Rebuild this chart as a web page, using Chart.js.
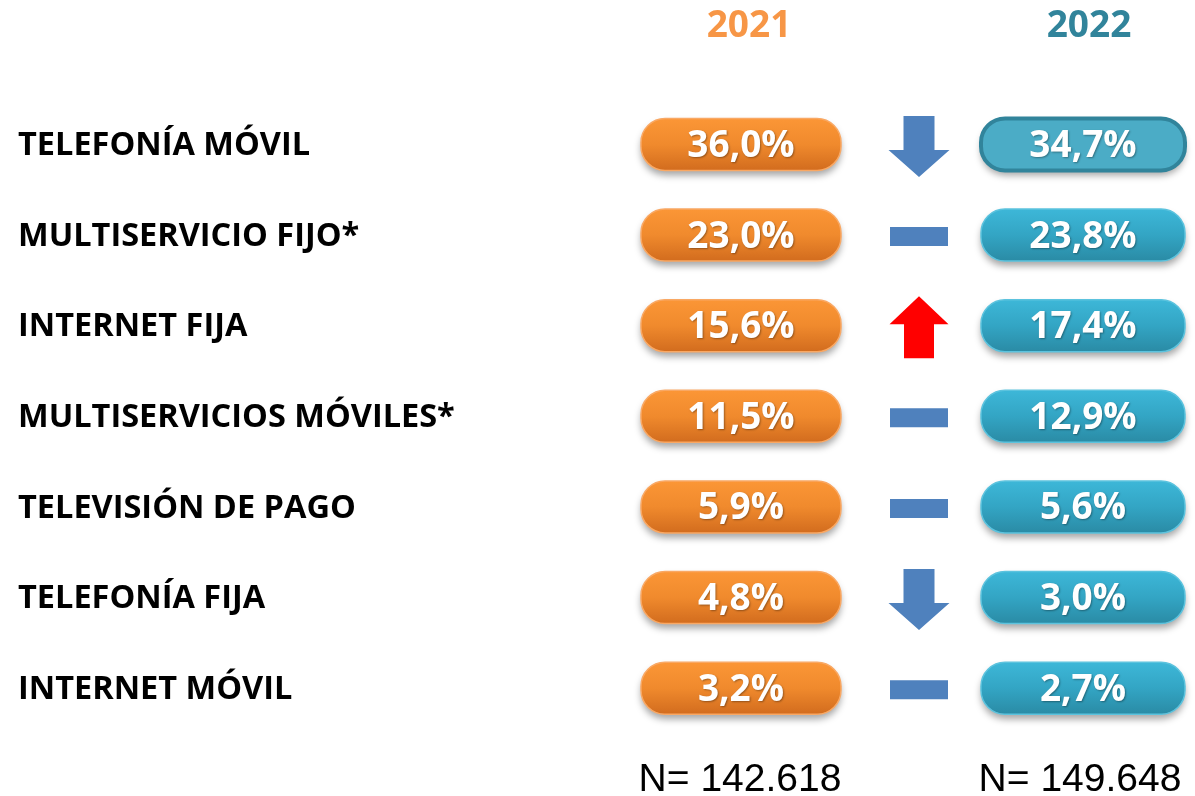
<!DOCTYPE html>
<html>
<head>
<meta charset="utf-8">
<script src="https://cdn.jsdelivr.net/npm/chart.js@4.4.0/dist/chart.umd.min.js"></script>
<style>
  html, body { margin: 0; padding: 0; background: #fff; }
</style>
</head>
<body>
<canvas id="chart" width="1195" height="796"></canvas>
<script>
const categories = ['TELEFONÍA MÓVIL', 'MULTISERVICIO FIJO*', 'INTERNET FIJA', 'MULTISERVICIOS MÓVILES*', 'TELEVISIÓN DE PAGO', 'TELEFONÍA FIJA', 'INTERNET MÓVIL'];
const share2021 = [36.0, 23.0, 15.6, 11.5, 5.9, 4.8, 3.2];
const share2022 = [34.7, 23.8, 17.4, 12.9, 5.6, 3.0, 2.7];
const trend = ['down', 'flat', 'up', 'flat', 'flat', 'down', 'flat'];
const columns = ['2021', '', '2022'];
const sampleSizes = ['N= 142.618', '', 'N= 149.648'];
const highlightRow = 0;

const yearColors = ['#F79646', '#ffffff', '#31849B'];

function fmt(v) {
    return v.toFixed(1).replace('.', ',') + '%';
}

// no extra side padding from the wide bottom labels
function noSidePad(s) {
    s.paddingLeft = 0;
    s.paddingRight = 0;
}

// pills, arrows and labels painted at the points the scales give us
const pillPlugin = {
    id: 'pills',
    afterDatasetsDraw(chart) {
        const ctx = chart.ctx;
        const styles = [
            { w: 200, top: '#FB9636', mid: '#F08A2D', bottom: '#D26C1E', edge: '#F9A864' },
            { w: 204, top: '#3DB7D8', mid: '#33A5C4', bottom: '#2A8BA5', edge: '#5CC3DE' }
        ];
        [0, 1].forEach(d => {
            const meta = chart.getDatasetMeta(d);
            const vals = chart.data.datasets[d].values;
            const st = styles[d];
            meta.data.forEach((pt, i) => {
                const h = 52, w = st.w;
                const cx = pt.x - (d === 0 ? 2 : 0), cy = pt.y - 1.5;
                ctx.save();
                ctx.beginPath();
                ctx.roundRect(cx - w / 2, cy - h / 2, w, h, 24);
                const g = ctx.createLinearGradient(0, cy - h / 2, 0, cy + h / 2);
                g.addColorStop(0, st.top);
                g.addColorStop(0.5, st.mid);
                g.addColorStop(1, st.bottom);
                ctx.shadowColor = 'rgba(0,0,0,0.35)';
                ctx.shadowBlur = 7;
                ctx.shadowOffsetY = 5;
                if (d === 1 && i === highlightRow) {
                    ctx.fillStyle = '#4BACC6';
                    ctx.fill();
                    ctx.shadowColor = 'transparent';
                    ctx.lineWidth = 4;
                    ctx.strokeStyle = '#31849B';
                    ctx.stroke();
                } else {
                    ctx.fillStyle = g;
                    ctx.fill();
                    ctx.shadowColor = 'transparent';
                    ctx.lineWidth = 1.5;
                    ctx.strokeStyle = st.edge;
                    ctx.stroke();
                }
                ctx.font = 'bold 37px "Open Sans"';
                ctx.textAlign = 'center';
                ctx.textBaseline = 'middle';
                ctx.shadowColor = 'rgba(0,0,0,0.35)';
                ctx.shadowBlur = 2;
                ctx.shadowOffsetX = 1;
                ctx.shadowOffsetY = 1;
                ctx.fillStyle = '#fff';
                ctx.fillText(fmt(vals[i]), cx, cy + 2);
                ctx.restore();
            });
        });

        const tm = chart.getDatasetMeta(2);
        const kinds = chart.data.datasets[2].kinds;
        tm.data.forEach((pt, i) => {
            const cx = pt.x + 6, cy = pt.y;
            ctx.save();
            ctx.beginPath();
            if (kinds[i] === 'flat') {
                ctx.fillStyle = '#4F81BD';
                ctx.rect(cx - 29, cy - 9.5, 58, 19);
            } else if (kinds[i] === 'down') {
                ctx.fillStyle = '#4F81BD';
                const t = cy - 30;
                ctx.moveTo(cx - 15.5, t);
                ctx.lineTo(cx + 15.5, t);
                ctx.lineTo(cx + 15.5, t + 34);
                ctx.lineTo(cx + 30.5, t + 34);
                ctx.lineTo(cx, t + 61);
                ctx.lineTo(cx - 30.5, t + 34);
                ctx.lineTo(cx - 15.5, t + 34);
                ctx.closePath();
            } else {
                ctx.fillStyle = '#FF0000';
                const b = cy + 31;
                ctx.moveTo(cx - 15, b);
                ctx.lineTo(cx + 15, b);
                ctx.lineTo(cx + 15, b - 34);
                ctx.lineTo(cx + 29.5, b - 34);
                ctx.lineTo(cx, b - 62);
                ctx.lineTo(cx - 29.5, b - 34);
                ctx.lineTo(cx - 15, b - 34);
                ctx.closePath();
            }
            ctx.fill();
            ctx.restore();
        });
    }
};

const config = {
    type: 'scatter',
    data: {
        datasets: [
            {
                label: columns[0],
                values: share2021,
                data: categories.map(c => ({ x: columns[0], y: c })),
                pointRadius: 0
            },
            {
                label: columns[2],
                values: share2022,
                data: categories.map(c => ({ x: columns[2], y: c })),
                pointRadius: 0
            },
            {
                label: 'trend',
                kinds: trend,
                data: categories.map(c => ({ x: columns[1], y: c })),
                pointRadius: 0
            }
        ]
    },
    options: {
        responsive: false,
        animation: false,
        devicePixelRatio: 1,
        layout: { padding: { left: 18, right: 27, top: 0, bottom: 0 } },
        plugins: { legend: { display: false }, tooltip: { enabled: false } },
        scales: {
            x: {
                type: 'category',
                labels: columns,
                position: 'top',
                offset: true,
                grid: { display: false },
                border: { display: false },
                ticks: {
                    autoSkip: false,
                    maxRotation: 0,
                    padding: 44,
                    labelOffset: 6,
                    color: ctx => yearColors[ctx.index],
                    font: { family: 'Open Sans', weight: 'bold', size: 37 }
                },
                afterFit: s => { s.height = 100.6; noSidePad(s); }
            },
            xN: {
                type: 'category',
                axis: 'x',
                labels: sampleSizes,
                position: 'bottom',
                offset: true,
                grid: { display: false },
                border: { display: false },
                ticks: {
                    autoSkip: false,
                    maxRotation: 0,
                    padding: 14,
                    labelOffset: -3,
                    color: '#000',
                    font: { family: 'Liberation Sans', size: 39 }
                },
                afterFit: s => { s.height = 61; noSidePad(s); }
            },
            y: {
                type: 'category',
                labels: categories,
                offset: true,
                grid: { display: false },
                border: { display: false },
                ticks: {
                    autoSkip: false,
                    crossAlign: 'far',
                    padding: 0,
                    color: '#000',
                    font: { family: 'Open Sans', weight: 'bold', size: 32.5 }
                },
                afterFit: s => { s.width = 640; }
            }
        }
    },
    plugins: [pillPlugin]
};

const myChart = new Chart(document.getElementById('chart'), config);
</script>
</body>
</html>
